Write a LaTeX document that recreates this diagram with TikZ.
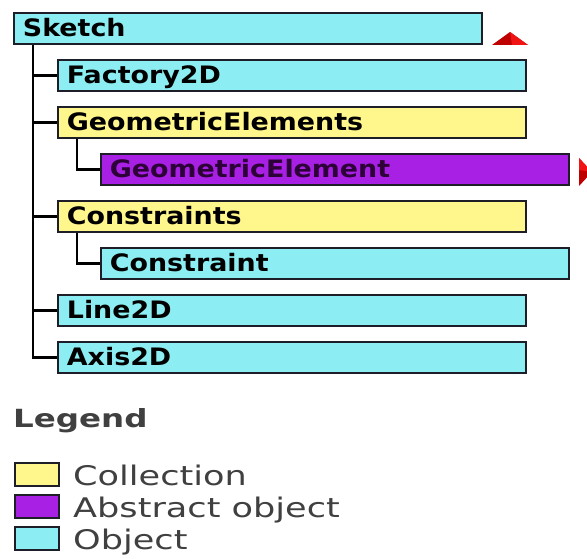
\documentclass[tikz,border=0pt]{standalone}
\usepackage{fontspec}
\setmainfont{DejaVu Sans}
\usepackage{graphicx}
\usetikzlibrary{calc}
\definecolor{objcol}{RGB}{140,238,242}
\definecolor{colcol}{RGB}{255,246,140}
\definecolor{abscol}{RGB}{168,32,228}
\definecolor{absink}{RGB}{45,0,55}
\definecolor{edgecol}{RGB}{30,30,40}
\definecolor{legink}{RGB}{64,64,64}
\definecolor{tridark}{RGB}{190,0,0}
\definecolor{trilight}{RGB}{240,20,20}
\newcommand{\boxtxt}[1]{\scalebox{1.12}[1]{\bfseries #1}}
\newcommand{\legtxt}[1]{\scalebox{1.3}[1]{#1}}
\begin{document}
\begin{tikzpicture}[x=1pt,y=-1pt,
  cls/.style={draw=edgecol, line width=1.8pt, rectangle, anchor=north west,
    minimum width=468pt, minimum height=31pt, text width=450pt, align=left,
    inner xsep=9pt, inner ysep=0pt, text height=16.5pt, text depth=0pt,
    font=\fontsize{24}{27}\selectfont},
  obj/.style={cls, fill=objcol},
  coll/.style={cls, fill=colcol},
  abst/.style={cls, fill=abscol, text=absink},
  link/.style={line width=2.5pt, draw=black},
  legbox/.style={draw=edgecol, line width=1.8pt, rectangle, anchor=north west,
    minimum width=44pt, minimum height=23pt, inner sep=0pt},
  legitem/.style={anchor=base west, text=legink, font=\fontsize{27}{31}\selectfont, inner sep=0pt}]
\useasboundingbox (0,0) rectangle (587,559);
\fill[white] (0,0) rectangle (587,559);
% tree boxes
\node[obj]  (sketch)  at (13,12)  {\boxtxt{Sketch}};
\node[obj]  (factory) at (57,59)  {\boxtxt{Factory2D}};
\node[coll] (geoels)  at (57,106) {\boxtxt{GeometricElements}};
\node[abst] (geoel)   at (100,153) {\boxtxt{GeometricElement}};
\node[coll] (cons)    at (57,200) {\boxtxt{Constraints}};
\node[obj]  (con)     at (100,247) {\boxtxt{Constraint}};
\node[obj]  (line)    at (57,294) {\boxtxt{Line2D}};
\node[obj]  (axis)    at (57,341) {\boxtxt{Axis2D}};
% connectors
\coordinate (trunk) at ($(sketch.south west)+(20,0)$);
\draw[link] (trunk) |- (axis.west);
\draw[link] (factory.west) -- (factory.west -| trunk);
\draw[link] (geoels.west) -- (geoels.west -| trunk);
\draw[link] (cons.west) -- (cons.west -| trunk);
\draw[link] (line.west) -- (line.west -| trunk);
\coordinate (subA) at ($(geoels.south west)+(20,0)$);
\draw[link] (subA) |- (geoel.west);
\coordinate (subB) at ($(cons.south west)+(20,0)$);
\draw[link] (subB) |- (con.west);
% red markers
\fill[tridark] (492,45) -- (510,32) -- (528,45) -- cycle;
\fill[trilight] (510,32) -- (528,45) -- (512,45) -- cycle;
\begin{scope}
\clip (0,0) rectangle (587,559);
\fill[tridark] (579,158) -- (592,172) -- (579,186) -- cycle;
\fill[trilight] (579,158) -- (592,172) -- (579,170) -- cycle;
\end{scope}
% legend
\node[anchor=base west, inner sep=0pt, text=legink, font=\fontsize{25}{29}\selectfont] (legend) at (13,427) {\scalebox{1.3}[1]{\bfseries Legend}};
\node[legbox, fill=colcol] (lcoll) at (14,462) {};
\node[legbox, fill=abscol] (labst) at (14,494) {};
\node[legbox, fill=objcol] (lobj)  at (14,526) {};
\node[legitem] (tcoll) at (73,485) {\legtxt{Collection}};
\node[legitem] (tabst) at (73,517) {\legtxt{Abstract object}};
\node[legitem] (tobj)  at (73,549) {\legtxt{Object}};
\end{tikzpicture}
\end{document}
